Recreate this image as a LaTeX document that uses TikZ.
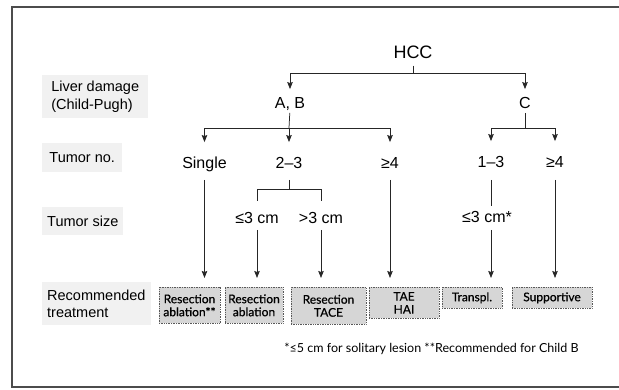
\documentclass[tikz,border=0pt]{standalone}
\usepackage{fontspec}
\setmainfont{Liberation Sans}
\newfontfamily\boxfont{Lato}
\newfontfamily\boxfontheavy[FakeBold=0.6]{Lato}
\usetikzlibrary{arrows.meta}

\tikzset{
  frame/.style={draw=black!70, line width=1.1pt},
  ln/.style={draw=black!85, line width=0.75pt},
  arr/.style={ln, -{Stealth[length=7pt, width=5.5pt, inset=1pt]}},
  top/.style={font=\fontsize{18}{20}\selectfont, inner sep=0pt, text height=12.6pt, text depth=0pt},
  lvl/.style={font=\fontsize{16}{18}\selectfont, inner sep=0pt, text height=11.5pt, text depth=0pt},
  rowlabel/.style={fill=gray!11, font=\fontsize{14.5}{17.5}\selectfont, align=left,
    anchor=north west, inner xsep=5pt, inner ysep=0pt},
  treat/.style={draw=black!65, densely dotted, line width=0.7pt, fill=gray!32,
    font=\boxfontheavy\fontsize{12}{13}\selectfont, align=center, inner sep=0pt,
    anchor=north},
}

\begin{document}
\begin{tikzpicture}[x=1pt, y=-1pt]
\useasboundingbox (0,0) rectangle (619,389);

% outer frame, open towards the right edge
\draw[frame] (640,7) -- (12,7) -- (12,387) -- (640,387);

% row labels
\node[rowlabel, minimum width=106pt, minimum height=43pt] (lab1) at (42,75)
  {Liver damage\\(Child-Pugh)};
\node[rowlabel, minimum width=80pt, minimum height=29pt] (lab2) at (42,143) {Tumor no.};
\node[rowlabel, minimum width=80pt, minimum height=28pt] (lab3) at (42,207) {Tumor size};
\node[rowlabel, minimum width=108pt, minimum height=43pt] (lab4) at (42,282)
  {Recommended\\treatment};

% decision levels
\node[top] (hcc) at (413,52) {HCC};
\node[lvl] (ab) at (290,103) {A, B};
\node[lvl] (c) at (525,103) {C};

\node[lvl] (single) at (204.5,163) {Single};
\node[lvl] (n23) at (289,163) {2–3};
\node[lvl] (n4a) at (390,163) {≥4};
\node[lvl] (n13) at (491,162) {1–3};
\node[lvl] (n4b) at (555,162) {≥4};

\node[lvl] (s3a) at (257,218) {≤3 cm};
\node[lvl] (s3b) at (321,218) {>3 cm};
\node[lvl] (s3c) at (487,217) {≤3 cm*};

% treatments
\node[treat, minimum width=61pt, minimum height=36pt] (b1) at (189.5,287) {Resection\\ablation**};
\node[treat, minimum width=58pt, minimum height=36pt] (b2) at (254,287) {Resection\\ablation};
\node[treat, minimum width=75pt, minimum height=37pt] (b3) at (328.5,287) {Resection\\TACE};
\node[treat, minimum width=70pt, minimum height=31pt] (b4) at (404,287) {TAE\\HAI};
\node[treat, minimum width=60pt, minimum height=21pt] (b5) at (472,287) {Transpl.};
\node[treat, minimum width=80pt, minimum height=21pt] (b6) at (552,287) {Supportive};

\node[font=\boxfont\fontsize{12.5}{14}\selectfont, inner sep=0pt] (note) at (431.5,349)
  {*≤5 cm for solitary lesion **Recommended for Child B};

% branch points
\coordinate (j0) at (413,73);
\coordinate (j1) at (289,128);
\coordinate (j2) at (525,128);
\coordinate (j3) at (289,189);

% HCC -> Child-Pugh class
\draw[ln, shorten <=7pt] (hcc.south) -- (j0);
\draw[arr, shorten >=8pt] (j0) -| (ab.north);
\draw[arr, shorten >=8pt] (j0) -| (c.north);

% class -> tumour number
\draw[ln, shorten <=4pt] (ab.south) -- (j1);
\draw[arr, shorten >=15pt] (j1) -| (single.north);
\draw[arr, shorten >=15pt] (j1) -- (n23.north);
\draw[arr, shorten >=15pt] (j1) -| (n4a.north);
\draw[ln, shorten <=4pt] (c.south) -- (j2);
\draw[arr, shorten >=15pt] (j2) -| (n13.north);
\draw[arr, shorten >=15pt] (j2) -| (n4b.north);

% tumour number -> size / treatment
\draw[arr, shorten <=11pt, shorten >=9pt] (single.south) -- (single.south |- b1.north);
\draw[ln, shorten <=11pt] (n23.south) -- (j3);
\draw[ln, shorten >=11pt] (j3) -| (s3a.north);
\draw[ln, shorten >=11pt] (j3) -| (s3b.north);
\draw[arr, shorten <=11pt, shorten >=9pt] (n4a.south) -- (n4a.south |- b4.north);
\draw[ln, shorten <=12pt, shorten >=5pt] (n13.south) -- (n13.south |- s3c.north);
\draw[arr, shorten <=12pt, shorten >=9pt] (n4b.south) -- (n4b.south |- b6.north);

% tumour size -> treatment
\draw[arr, shorten <=6pt, shorten >=9pt] (s3a.south) -- (s3a.south |- b2.north);
\draw[arr, shorten <=6pt, shorten >=9pt] (s3b.south) -- (s3b.south |- b3.north);
\draw[arr, shorten <=7pt, shorten >=9pt] (n13 |- s3c.south) -- (n13 |- b5.north);
\end{tikzpicture}
\end{document}
